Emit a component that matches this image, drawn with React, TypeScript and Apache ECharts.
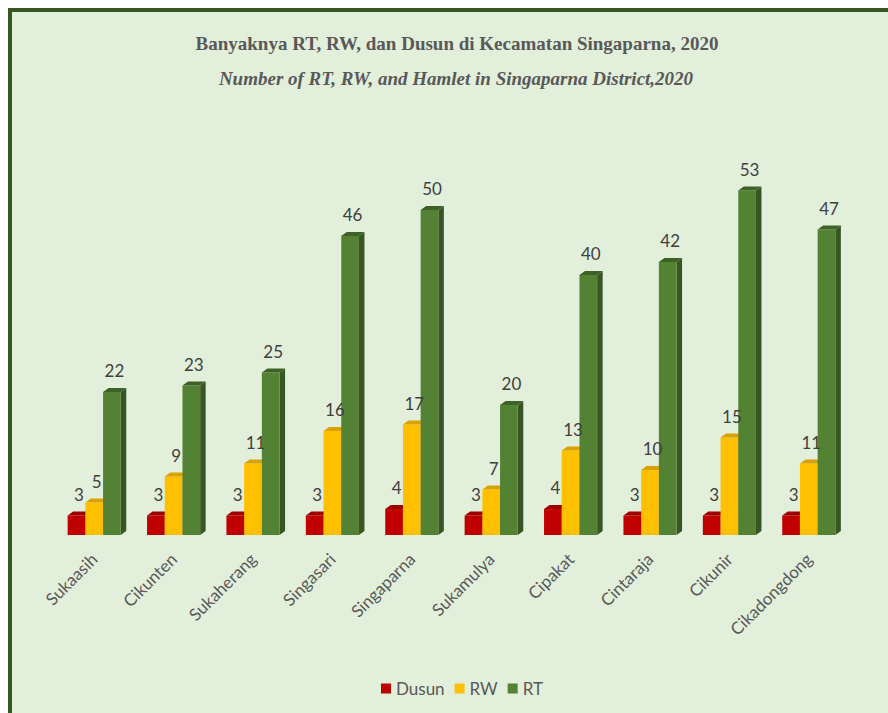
import React, { useEffect, useRef } from "react";
import * as echarts from "echarts";

const categories = [
  "Sukaasih",
  "Cikunten",
  "Sukaherang",
  "Singasari",
  "Singaparna",
  "Sukamulya",
  "Cipakat",
  "Cintaraja",
  "Cikunir",
  "Cikadongdong",
];
const dusun = [3, 3, 3, 3, 4, 3, 4, 3, 3, 3];
const rw = [5, 9, 11, 16, 17, 7, 13, 10, 15, 11];
const rt = [22, 23, 25, 46, 50, 20, 40, 42, 53, 47];

const titleText = "Banyaknya RT, RW, dan Dusun di Kecamatan Singaparna, 2020";
const subtitleText = "Number of RT, RW, and Hamlet in Singaparna District,2020";

const DX = 5.5;
const DY = 4;
const BAR_RATIO = 0.223;

function geom(api: any, idx: number) {
  const cat = api.value(0);
  const val = api.value(1);
  const pTop = api.coord([cat, val]);
  const pBase = api.coord([cat, 0]);
  const band = api.size([1, 0])[0];
  const bw = band * BAR_RATIO;
  const x0 = pTop[0] - 1.5 * bw + idx * bw;
  return { val, x0, x1: x0 + bw, bw, yT: pTop[1], yB: pBase[1] };
}

function makeSeries(
  name: string,
  values: number[],
  idx: number,
  front: string,
  top: string,
  side: string
) {
  return {
    type: "custom",
    name,
    itemStyle: { color: front },
    data: values.map((v, i) => [i, v]),
    encode: { x: 0, y: 1 },
    z: 2 + idx,
    renderItem: (params: any, api: any) => {
      const { x0, x1, bw, yT, yB } = geom(api, idx);
      return {
        type: "group",
        children: [
          {
            type: "polygon",
            shape: {
              points: [
                [x1, yT],
                [x1 + DX, yT - DY],
                [x1 + DX, yB - DY],
                [x1, yB],
              ],
            },
            style: { fill: side },
          },
          {
            type: "rect",
            shape: { x: x0, y: yT, width: bw, height: yB - yT },
            style: { fill: front },
          },
          {
            type: "polygon",
            shape: {
              points: [
                [x0, yT],
                [x1, yT],
                [x1 + DX, yT - DY],
                [x0 + DX, yT - DY],
              ],
            },
            style: { fill: top },
          },
        ],
      };
    },
  };
}

function makeLabels(values: number[], idx: number) {
  return {
    type: "custom",
    data: values.map((v, i) => [i, v]),
    encode: { x: 0, y: 1 },
    z: 10,
    silent: true,
    renderItem: (params: any, api: any) => {
      const { val, x0, x1, yT } = geom(api, idx);
      return {
        type: "text",
        style: {
          text: String(val),
          x: (x0 + x1) / 2 + 2.5,
          y: yT - 13,
          align: "center",
          verticalAlign: "bottom",
          fill: "#404040",
          font: "17px Lato",
        },
      };
    },
  };
}

export default function App() {
  const ref = useRef<HTMLDivElement>(null);
  useEffect(() => {
    if (!ref.current) return;
    const chart = echarts.init(ref.current, undefined, { renderer: "svg" });
    chart.setOption({
      animation: false,
      backgroundColor: "#ffffff",
      graphic: [
        {
          type: "rect",
          shape: { x: 8, y: 8, width: 880, height: 705 },
          style: { fill: "#375623" },
          z: -10,
        },
        {
          type: "rect",
          shape: { x: 12, y: 12, width: 876, height: 701 },
          style: { fill: "#E2EFDA" },
          z: -9,
        },
        {
          type: "text",
          style: {
            text: titleText,
            x: 457,
            y: 43,
            align: "center",
            verticalAlign: "middle",
            fill: "#595959",
            font: "bold 19px 'Liberation Serif'",
          },
        },
        {
          type: "text",
          style: {
            text: subtitleText,
            x: 456,
            y: 78,
            align: "center",
            verticalAlign: "middle",
            fill: "#595959",
            font: "italic bold 19px 'Liberation Serif'",
          },
        },
      ],
      legend: {
        bottom: 11,
        left: 376,
        icon: "rect",
        itemWidth: 10,
        itemHeight: 10,
        itemGap: 10,
        textStyle: { color: "#595959", fontSize: 17, fontFamily: "Lato" },
        data: ["Dusun", "RW", "RT"],
      },
      grid: { left: 54.5, right: 39.5, top: 145, bottom: 178 },
      xAxis: {
        type: "category",
        data: categories,
        axisLine: { show: false },
        axisTick: { show: false },
        axisLabel: {
          interval: 0,
          rotate: 45,
          margin: 21,
          color: "#595959",
          fontSize: 17,
          fontFamily: "Lato",
        },
      },
      yAxis: {
        type: "value",
        min: 0,
        max: 60,
        show: false,
        splitLine: { show: false },
      },
      series: [
        makeSeries("Dusun", dusun, 0, "#C00000", "#9E0000", "#8A0000"),
        makeSeries("RW", rw, 1, "#FFC000", "#D9A200", "#C09000"),
        makeSeries("RT", rt, 2, "#548235", "#3E6127", "#375623"),
        makeLabels(dusun, 0),
        makeLabels(rw, 1),
        makeLabels(rt, 2),
      ],
    });
    return () => chart.dispose();
  }, []);
  return (
    <div
      ref={ref}
      style={{ position: "fixed", left: 0, top: 0, width: 888, height: 713 }}
    />
  );
}
